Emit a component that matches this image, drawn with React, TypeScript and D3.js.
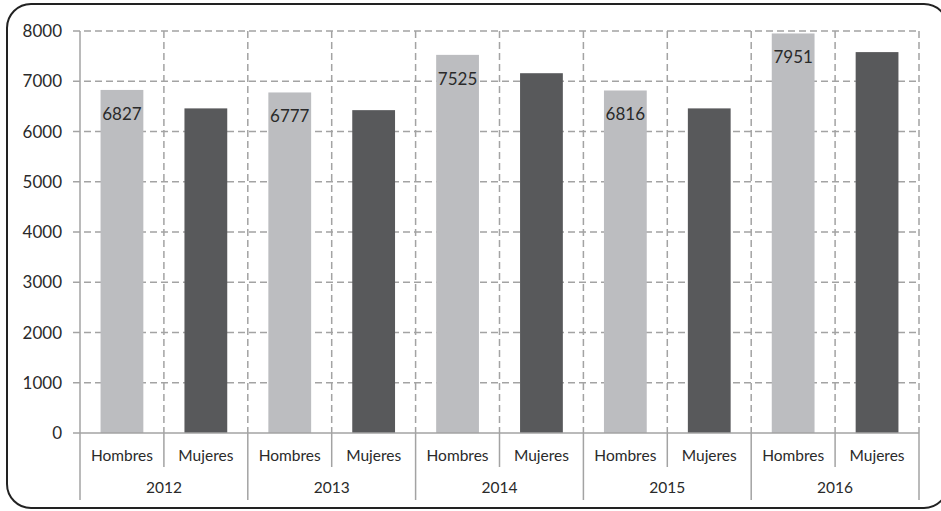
import React from "react";
import * as d3 from "d3";

const years = ["2012", "2013", "2014", "2015", "2016"];
const sexes = ["Hombres", "Mujeres"];
const hombres = [6827, 6777, 7525, 6816, 7951];
const mujeres = [6460, 6425, 7160, 6460, 7580];
const yTicks = [0, 1000, 2000, 3000, 4000, 5000, 6000, 7000, 8000];

const W = 941;
const H = 511;
const left = 80;
const right = 919;
const top = 31;
const bottom = 433;
const FONT = "Lato, 'Open Sans', sans-serif";

export default function App() {
  const keys = years.flatMap((y) => sexes.map((s) => `${y}|${s}`));
  const x = d3.scaleBand<string>().domain(keys).range([left, right]).paddingInner(0.49).paddingOuter(0.245);
  const xYear = d3.scaleBand<string>().domain(years).range([left, right]);
  const y = d3.scaleLinear().domain([0, 8000]).range([bottom, top]);
  const step = x.step();
  const bars = years.flatMap((yr, i) => [
    { key: `${yr}|Hombres`, v: hombres[i], color: "#BCBDC0", label: true },
    { key: `${yr}|Mujeres`, v: mujeres[i], color: "#58595B", label: false },
  ]);
  const slotEdges = keys.map((k) => (x(k) as number) - step * 0.245).concat([right]);
  const grid = "#A3A3A3";
  const txt = "#2a2a2a";
  return (
    <svg width={W} height={H} style={{ position: "absolute", left: 0, top: 0, background: "#fff" }} fontFamily={FONT}>
      <rect x={0} y={0} width={W} height={H} fill="#fff" />
      {yTicks.filter((t) => t > 0).map((t) => (
        <line key={"h" + t} x1={73} x2={right} y1={y(t)} y2={y(t)} stroke={grid} strokeWidth={1.5} strokeDasharray="7,4" />
      ))}
      {slotEdges.slice(1).map((e, i) => (
        <line key={"v" + i} x1={e} x2={e} y1={top} y2={bottom} stroke={grid} strokeWidth={1.5} strokeDasharray="7,4" />
      ))}
      {bars.map((b) => (
        <rect key={b.key} x={x(b.key)} y={y(b.v)} width={x.bandwidth()} height={y(0) - y(b.v)} fill={b.color} />
      ))}
      {bars.filter((b) => b.label).map((b) => (
        <text key={"l" + b.key} x={(x(b.key) as number) + x.bandwidth() / 2} y={y(b.v) + 30} textAnchor="middle" fontSize={17} fill={txt}>
          {b.v}
        </text>
      ))}
      <line x1={left} x2={left} y1={top} y2={500} stroke={grid} strokeWidth={1.5} />
      <line x1={73} x2={right} y1={bottom} y2={bottom} stroke={grid} strokeWidth={1.5} />
      {yTicks.map((t) => (
        <text key={"yt" + t} x={62} y={y(t)} dy="0.36em" textAnchor="end" fontSize={17} fill={txt}>
          {t}
        </text>
      ))}
      {years.map((yr) => {
        const x0 = xYear(yr) as number;
        const mid = x0 + xYear.bandwidth() / 2;
        return (
          <g key={"sep" + yr}>
            <line x1={mid} x2={mid} y1={bottom} y2={467} stroke={grid} strokeWidth={1.5} />
            <line x1={x0 + xYear.bandwidth()} x2={x0 + xYear.bandwidth()} y1={bottom} y2={500} stroke={grid} strokeWidth={1.5} />
            <text x={mid} y={493} textAnchor="middle" fontSize={15.5} fill={txt}>{yr}</text>
          </g>
        );
      })}
      {keys.map((k) => (
        <text key={"c" + k} x={(x(k) as number) + x.bandwidth() / 2} y={461} textAnchor="middle" fontSize={15.5} fill={txt}>
          {k.split("|")[1]}
        </text>
      ))}
      <rect x={7} y={4} width={941} height={504} rx={24} ry={24} fill="none" stroke="#222" strokeWidth={2} />
    </svg>
  );
}
